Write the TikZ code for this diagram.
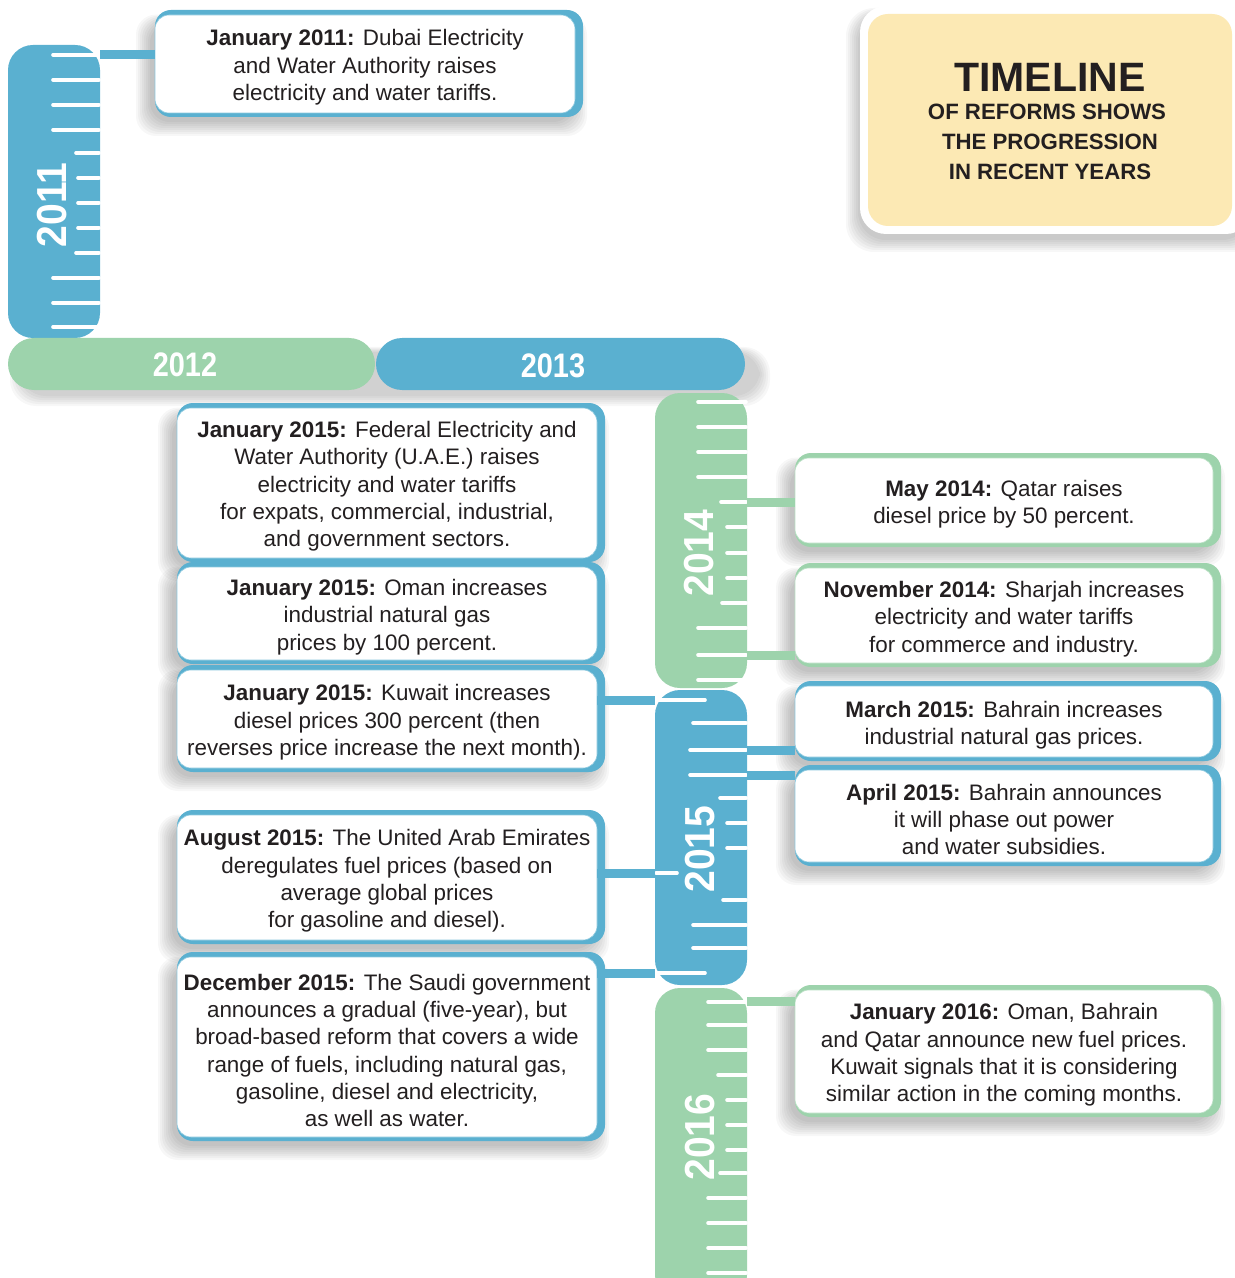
\documentclass[tikz,border=0pt]{standalone}
\usepackage{fontspec}
\setmainfont{Liberation Sans}
\usepackage{graphicx}
\definecolor{tblue}{HTML}{5AB0D0}
\definecolor{tgreen}{HTML}{9DD3AC}
\definecolor{tyellow}{HTML}{FCE9B4}
\definecolor{ttext}{HTML}{231F20}
\tikzset{
  evbox/.style={fill=white, rounded corners=7pt, inner sep=0pt},
  evtext/.style={align=center, text=ttext, inner sep=0pt, font=\fontsize{11.2}{13.65}\selectfont},
  shadowlayer/.style={fill=black, opacity=0.03, rounded corners=10pt},
  yearbar/.style={rounded corners=12.5pt, inner sep=0pt, minimum width=46pt},
  ticks/.style={draw=white, line width=1.8pt, line cap=round},
  conn/.style={line width=4.5pt},
  yearlbl/.style={text=white, font=\fontsize{21}{21}\selectfont\bfseries, inner sep=0pt},
  titlefont/.style={text=ttext, inner sep=0pt, anchor=base},
}
% soft shadow: #1 x1, #2 y1, #3 x2, #4 y2 (pixel units), offset down-left
\newcommand\softshadow[4]{%
  \foreach \s in {0,2,...,14}
    \fill[shadowlayer] (#1-5-\s,#2+8-\s*0.6) rectangle (#3-2+\s,#4+9+\s);
}
% #1 name, #2 colour, #3 x1, #4 y1, #5 x2, #6 y2, #7 text
\newcommand\evbox[7]{%
  \softshadow{#3}{#4}{#5}{#6}%
  \fill[#2, rounded corners=8pt] (#3,#4-5) rectangle (#5+8,#6+4);
  \pgfmathsetmacro\evbw{(#5-#3)*0.5}%
  \pgfmathsetmacro\evbh{(#6-#4)*0.5}%
  \node[evbox, draw=#2!70, line width=0.3pt, minimum width=\evbw pt, minimum height=\evbh pt]
    (#1) at ({(#3+#5)/2},{(#4+#6)/2}) {};
  \node[evtext] (#1t) at ({(#3+#5)/2},{(#4+#6)/2+3.5}) {#7};
}
\begin{document}
\begin{tikzpicture}[x=0.5pt,y=-0.5pt]
\useasboundingbox (0,0) rectangle (1235,1278);
\fill[white] (0,0) rectangle (1235,1278);

% ---------- year bars ----------
\node[yearbar, fill=tblue, minimum height=146.5pt] (b2011) at (54,191.5) {};
\foreach \s in {0,2,...,10}
  \fill[shadowlayer, rounded corners=13pt] (20-\s,352-\s*0.5) rectangle (760+\s,396+\s);
\node[yearbar, fill=tgreen, rounded corners=13pt, minimum width=183.5pt, minimum height=26pt] (b2012) at (191.5,364) {};
\node[yearbar, fill=tblue, rounded corners=13pt, minimum width=184.5pt, minimum height=26pt] (b2013) at (560.5,364) {};
\node[yearbar, fill=tgreen, minimum height=147.5pt] (b2014) at (701,540.5) {};
\node[yearbar, fill=tblue, minimum height=147.5pt] (b2015) at (701,837.5) {};
\node[yearbar, fill=tgreen, minimum height=156pt] (b2016) at (701,1144) {};

% ---------- ticks ----------
\foreach \y/\x in {55/53,80/53,105/53,130/53,153/76,178/78,203/78,228/78,253/76,278/53,303/53,327/53}
  \draw[ticks] (\x,\y) -- (99,\y);
\foreach \y/\x in {402/698,427/698,452/698,477/698,502/721,527/727,553/727,578/727,603/722,628/698,655/698,680/698}
  \draw[ticks] (\x,\y) -- (746,\y);
\foreach \y/\x in {723/693,750/690,775/690,798/720,823/727,848/727,900/723,925/693,948/693}
  \draw[ticks] (\x,\y) -- (746,\y);
\foreach \y/\x in {700/705,873/677,973/705}
  \draw[ticks] (656,\y) -- (\x,\y);
\foreach \y/\x in {1002/708,1025/708,1050/708,1075/718,1100/727,1125/727,1150/727,1173/720,1198/708,1223/708,1248/708,1273/708}
  \draw[ticks] (\x,\y) -- (746,\y);

% ---------- year labels ----------
\node[yearlbl, rotate=90] (l2011) at (52,205) {\scalebox{0.93}[1]{2011}};
\node[yearlbl, font=\fontsize{17}{17}\selectfont\bfseries] (l2012) at (185,365) {\scalebox{0.85}[1]{2012}};
\node[yearlbl, font=\fontsize{17}{17}\selectfont\bfseries] (l2013) at (553,366) {\scalebox{0.85}[1]{2013}};
\node[yearlbl, rotate=90] (l2014) at (699,553) {\scalebox{0.93}[1]{2014}};
\node[yearlbl, rotate=90] (l2015) at (700,849) {\scalebox{0.93}[1]{2015}};
\node[yearlbl, rotate=90] (l2016) at (700,1137) {\scalebox{0.93}[1]{2016}};

% ---------- title box ----------
\foreach \s in {0,2,...,12}
  \fill[shadowlayer, rounded corners=14pt] (858-\s,14-\s*0.5) rectangle (1250+\s,240+\s);
\fill[white, rounded corners=13pt] (860,6) rectangle (1252,234);
\node[fill=tyellow, rounded corners=10pt, minimum width=182pt, minimum height=106pt, inner sep=0pt] (tbox) at (1050,120) {};
\node[titlefont, font=\fontsize{20.5}{20.5}\selectfont\bfseries] (t1) at (1050,92) {TIMELINE};
\node[titlefont, font=\fontsize{11.1}{11.1}\selectfont\bfseries] (t2) at (1047,120) {OF REFORMS SHOWS};
\node[titlefont, font=\fontsize{11.1}{11.1}\selectfont\bfseries] (t3) at (1050,150) {THE PROGRESSION};
\node[titlefont, font=\fontsize{11.1}{11.1}\selectfont\bfseries] (t4) at (1050,180) {IN RECENT YEARS};

% ---------- event boxes ----------
\evbox{jan11}{tblue}{155}{15}{575}{113}{\textbf{January 2011:} Dubai Electricity\\and Water Authority raises\\electricity and water tariffs.}
\evbox{fewa}{tblue}{177}{408}{597}{558}{\textbf{January 2015:} Federal Electricity and\\Water Authority (U.A.E.) raises\\electricity and water tariffs\\for expats, commercial, industrial,\\and government sectors.}
\evbox{oman}{tblue}{177}{567}{597}{660}{\textbf{January 2015:} Oman increases\\industrial natural gas\\prices by 100 percent.}
\evbox{kuwait}{tblue}{177}{670}{597}{768}{\textbf{January 2015:} Kuwait increases\\diesel prices 300 percent (then\\reverses price increase the next month).}
\evbox{aug}{tblue}{177}{815}{597}{940}{\textbf{August 2015:} The United Arab Emirates\\deregulates fuel prices (based on\\average global prices\\for gasoline and diesel).}
\evbox{dec}{tblue}{177}{957}{597}{1137}{\textbf{December 2015:} The Saudi government\\announces a gradual (five-year), but\\broad-based reform that covers a wide\\range of fuels, including natural gas,\\gasoline, diesel and electricity,\\as well as water.}
\evbox{may14}{tgreen}{795}{458}{1213}{543}{\textbf{May 2014:} Qatar raises\\diesel price by 50 percent.}
\evbox{nov14}{tgreen}{795}{568}{1213}{663}{\textbf{November 2014:} Sharjah increases\\electricity and water tariffs\\for commerce and industry.}
\evbox{mar15}{tblue}{795}{686}{1213}{757}{\textbf{March 2015:} Bahrain increases\\industrial natural gas prices.}
\evbox{apr15}{tblue}{795}{770}{1213}{862}{\textbf{April 2015:} Bahrain announces\\it will phase out power\\and water subsidies.}
\evbox{jan16}{tgreen}{795}{990}{1213}{1113}{\textbf{January 2016:} Oman, Bahrain\\and Qatar announce new fuel prices.\\Kuwait signals that it is considering\\similar action in the coming months.}

% ---------- connectors ----------
\draw[conn, tblue] (b2011.east |- 0,55) -- (jan11.west |- 0,55);
\draw[conn, tgreen] (b2014.east |- 0,502) -- (may14.west |- 0,502);
\draw[conn, tgreen] (b2014.east |- 0,655) -- (nov14.west |- 0,655);
\draw[conn, tblue] (b2015.east |- 0,750) -- (mar15.west |- 0,750);
\draw[conn, tblue] (b2015.east |- 0,775) -- (apr15.west |- 0,775);
\draw[conn, tblue] (kuwait.east |- 0,700) -- (b2015.west |- 0,700);
\draw[conn, tblue] (aug.east |- 0,873) -- (b2015.west |- 0,873);
\draw[conn, tblue] (dec.east |- 0,973) -- (b2015.west |- 0,973);
\draw[conn, tgreen] (b2016.east |- 0,1001) -- (jan16.west |- 0,1001);
\end{tikzpicture}
\end{document}
